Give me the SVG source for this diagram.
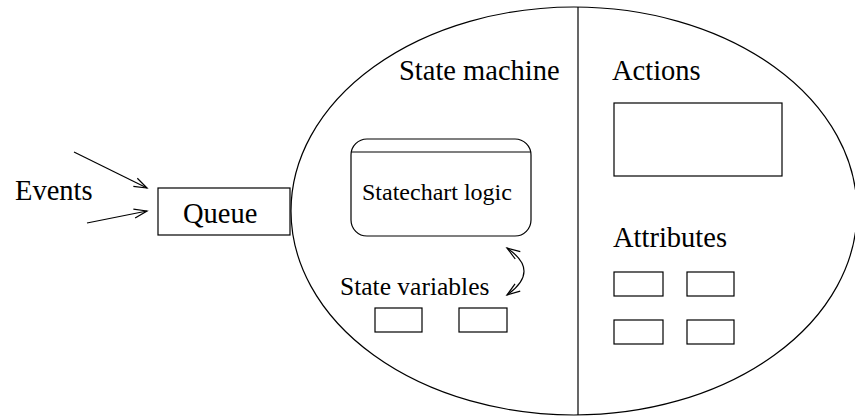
<svg xmlns="http://www.w3.org/2000/svg" width="855" height="417" viewBox="0 0 855 417">
  <style>
    .shape { fill: none; stroke: #000; stroke-width: 1.2; }
    .box { fill: #fff; stroke: #000; stroke-width: 1.2; }
    .lbl { font-family: "Liberation Serif", "Times New Roman", serif; fill: #000; }
    .big { font-size: 28.5px; }
    .small { font-size: 24px; }
    .mid { font-size: 25.5px; }
    .wire { fill: none; stroke: #000; stroke-width: 1.2; }
  </style>
  <defs>
    <marker id="vhead" viewBox="-14 -6 16 12" refX="0" refY="0" markerWidth="16" markerHeight="12" markerUnits="userSpaceOnUse" orient="auto-start-reverse">
      <path d="M -13,-4.5 L 0,0 L -13,4.5" fill="none" stroke="#000" stroke-width="1.2"/>
    </marker>
  </defs>
  <rect width="855" height="417" fill="#fff"/>

  <!-- state machine outline, split into two halves -->
  <g id="machine">
    <ellipse class="shape" cx="574" cy="211" rx="283" ry="204"/>
    <line class="shape" x1="578" y1="7" x2="578" y2="415"/>
    <text class="lbl big" x="399" y="80">State machine</text>
  </g>

  <g id="events">
    <text class="lbl big" x="15" y="200">Events</text>
  </g>

  <g id="queue">
    <rect class="box" x="158" y="188" width="132" height="47"/>
    <text class="lbl big" x="183" y="223">Queue</text>
  </g>

  <g id="statechart-logic">
    <rect class="shape" x="351" y="139" width="180" height="97" rx="16" ry="16"/>
    <line class="shape" x1="351.2" y1="152" x2="530.8" y2="152"/>
    <text class="lbl small" x="362" y="200">Statechart logic</text>
  </g>

  <g id="state-variables">
    <text class="lbl mid" x="340" y="295">State variables</text>
    <rect class="shape" x="375" y="308" width="47" height="24"/>
    <rect class="shape" x="459" y="308" width="48" height="24"/>
  </g>

  <g id="actions">
    <text class="lbl big" x="612" y="80">Actions</text>
    <rect class="shape" x="614" y="103" width="168" height="73"/>
  </g>

  <g id="attributes">
    <text class="lbl big" x="613" y="247">Attributes</text>
    <rect class="shape" x="614" y="272" width="49" height="24"/>
    <rect class="shape" x="687" y="272" width="47" height="24"/>
    <rect class="shape" x="614" y="320" width="49" height="24"/>
    <rect class="shape" x="687" y="320" width="47" height="24"/>
  </g>

  <g id="connectors">
    <line class="wire" x1="74" y1="152" x2="147" y2="188" marker-end="url(#vhead)"/>
    <line class="wire" x1="87" y1="223" x2="147" y2="211" marker-end="url(#vhead)"/>
    <path class="wire" d="M 507,248 Q 541,271 507,295" marker-start="url(#vhead)" marker-end="url(#vhead)"/>
  </g>
</svg>
